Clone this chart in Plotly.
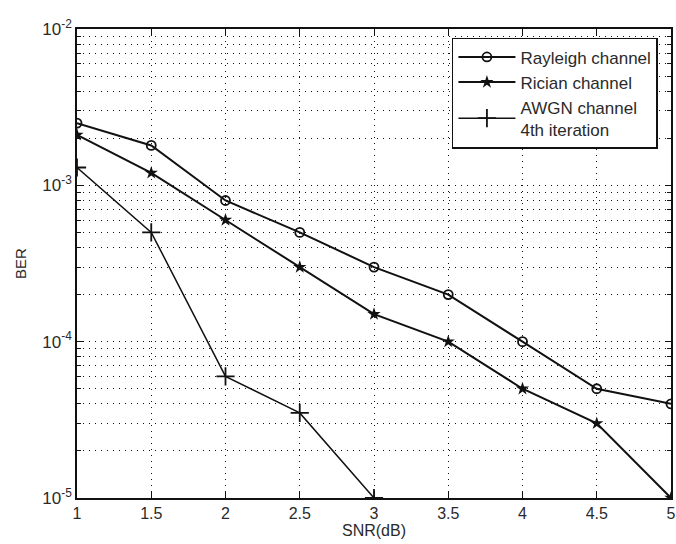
import plotly.graph_objects as go

snr = [1, 1.5, 2, 2.5, 3, 3.5, 4, 4.5, 5]
rayleigh = [2.5e-3, 1.8e-3, 8e-4, 5e-4, 3e-4, 2e-4, 1e-4, 5e-5, 4e-5]
rician = [2.1e-3, 1.2e-3, 6e-4, 3e-4, 1.5e-4, 1e-4, 5e-5, 3e-5, 1e-5]
snr_awgn = [1, 1.5, 2, 2.5, 3]
awgn = [1.3e-3, 5e-4, 6e-5, 3.5e-5, 1e-5]

x_ticks = [1, 1.5, 2, 2.5, 3, 3.5, 4, 4.5, 5]
y_ticks = [1e-5, 1e-4, 1e-3, 1e-2]
y_ticktext = ["10<sup>-5</sup>", "10<sup>-4</sup>", "10<sup>-3</sup>", "10<sup>-2</sup>"]
y_minor = [m * 10.0 ** e for e in (-5, -4, -3) for m in range(2, 10)]

font = "Liberation Sans, Arial, sans-serif"
ink = "#111111"
txt = "#2a2a2a"
dots = "1px,5px"

fig = go.Figure()
fig.add_trace(go.Scatter(x=snr, y=rayleigh, name="Rayleigh channel", mode="lines+markers",
                         line=dict(color=ink, width=2),
                         marker=dict(symbol="circle-open", size=9, color=ink, line=dict(width=1.8))))
fig.add_trace(go.Scatter(x=snr, y=rician, name="Rician channel", mode="lines+markers",
                         line=dict(color=ink, width=2),
                         marker=dict(symbol="star", size=10, color=ink)))
fig.add_trace(go.Scatter(x=snr_awgn, y=awgn, name="AWGN channel<br>4th iteration", mode="lines+markers",
                         line=dict(color=ink, width=1.5),
                         marker=dict(symbol="cross-thin-open", size=13, color=ink, line=dict(width=1.8, color=ink))))

fig.update_layout(
    width=676, height=544,
    margin=dict(l=77, r=5, t=29, b=46),
    paper_bgcolor="white", plot_bgcolor="white",
    font=dict(family=font, size=15, color=txt),
    legend=dict(x=0.978, y=0.981, xanchor="right", yanchor="top",
                bgcolor="white", bordercolor=ink, borderwidth=1.5,
                font=dict(size=17, color=txt), tracegroupgap=0, itemwidth=57),
    showlegend=True,
)
fig.update_xaxes(
    range=[1, 5], tickvals=x_ticks, ticktext=[str(v) for v in x_ticks], automargin=False,
    ticks="inside", ticklen=6, tickcolor=ink, showline=True, linecolor=ink, linewidth=1.5, mirror="ticks",
    showgrid=True, gridcolor=ink, griddash=dots, gridwidth=1, zeroline=False,
    tickfont=dict(size=16),
    title=dict(text="SNR(dB)", standoff=3, font=dict(size=16)),
)
fig.update_yaxes(
    type="log", range=[-5, -2], tickvals=y_ticks, ticktext=y_ticktext, automargin=False,
    ticks="inside", ticklen=6, tickcolor=ink, showline=True, linecolor=ink, linewidth=1.5, mirror="ticks",
    showgrid=True, gridcolor=ink, griddash=dots, gridwidth=1, zeroline=False,
    tickfont=dict(size=17),
    minor=dict(tickvals=y_minor, ticks="inside", ticklen=4, tickcolor=ink,
               showgrid=True, gridcolor=ink, griddash=dots, gridwidth=1),
    title=dict(text="BER", standoff=12, font=dict(size=15)),
)

fig.write_html("out.html")
